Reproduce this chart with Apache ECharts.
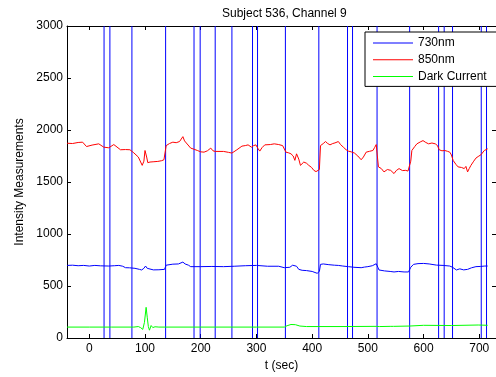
<!DOCTYPE html>
<html>
<head>
<meta charset="utf-8">
<script src="https://cdn.jsdelivr.net/npm/echarts@6/dist/echarts.min.js"></script>
<style>
  html, body { margin: 0; padding: 0; background: #fff; }
  #chart { width: 496px; height: 377px; }
</style>
</head>
<body>
<div id="chart"></div>
<script>
// values, [t (sec), intensity]
const nm730 = [
  [-40, 698], [-30, 700], [-20, 695], [-10, 698], [0, 692], [10, 698], [20, 694], [35, 692], [45, 695], [53, 698],
  [60, 690], [65, 676], [72, 675], [82, 670], [90, 660], [94, 654], [98, 670], [101, 692], [104, 670], [106, 654],
  [115, 655], [125, 656], [135, 660], [138, 700], [141, 708], [150, 710], [160, 712], [168, 730], [172, 712], [178, 700],
  [182, 686], [200, 686], [220, 688], [241, 686], [260, 690], [280, 695], [300, 698], [320, 690], [340, 690], [350, 676],
  [360, 680], [365, 700], [368, 692], [372, 690], [376, 660], [382, 651], [390, 648], [400, 640], [409, 622], [413, 640],
  [415, 708], [420, 712], [430, 705], [440, 700], [447, 698], [455, 692], [465, 686], [475, 680], [488, 676], [494, 682],
  [500, 686], [508, 695], [515, 714], [518, 680], [520, 654], [530, 645], [540, 640], [547, 635], [555, 640], [565, 635],
  [573, 635], [577, 680], [582, 708], [590, 715], [600, 717], [610, 712], [623, 701], [635, 698], [647, 692], [652, 680],
  [659, 654], [665, 665], [672, 655], [679, 660], [686, 675], [694, 686], [702, 688], [710, 692], [715, 692]
]

const nm850 = [
  [-40, 1873], [-30, 1870], [-20, 1880], [-12, 1883], [-5, 1841], [5, 1855], [17, 1867], [26, 1835], [35, 1829], [44, 1860],
  [56, 1810], [65, 1812], [73, 1810], [80, 1780], [88, 1740], [95, 1660], [98, 1700], [100, 1803], [103, 1740], [105, 1686],
  [109, 1692], [116, 1695], [123, 1698], [130, 1705], [134, 1714], [136, 1712], [138, 1850], [144, 1870], [150, 1883], [156, 1878],
  [162, 1889], [165, 1900], [168, 1936], [171, 1895], [174, 1883], [182, 1826], [188, 1815], [194, 1803], [200, 1790], [206, 1787],
  [212, 1800], [218, 1826], [222, 1800], [226, 1794], [241, 1794], [250, 1785], [256, 1778], [265, 1810], [274, 1845], [280, 1850],
  [285, 1857], [291, 1835], [295, 1850], [299, 1857], [303, 1820], [306, 1797], [310, 1830], [315, 1857], [325, 1860], [332, 1867],
  [340, 1860], [347, 1850], [350, 1840], [353, 1787], [358, 1780], [362, 1771], [366, 1750], [369, 1708], [372, 1771], [376, 1720],
  [379, 1660], [385, 1692], [390, 1680], [394, 1660], [399, 1640], [403, 1612], [407, 1600], [410, 1587], [413, 1620], [415, 1850],
  [420, 1870], [424, 1889], [428, 1870], [432, 1857], [437, 1870], [441, 1876], [447, 1889], [451, 1860], [456, 1835], [461, 1810],
  [465, 1797], [470, 1790], [476, 1778], [482, 1750], [488, 1714], [492, 1740], [497, 1787], [503, 1795], [509, 1803], [512, 1830],
  [515, 1860], [517, 1750], [519, 1645], [524, 1630], [529, 1597], [535, 1620], [541, 1612], [544, 1595], [547, 1581], [551, 1610],
  [556, 1629], [562, 1610], [568, 1612], [572, 1605], [575, 1603], [577, 1700], [579, 1803], [584, 1840], [588, 1867], [594, 1885],
  [599, 1898], [604, 1880], [609, 1867], [615, 1875], [621, 1867], [625, 1850], [628, 1810], [633, 1800], [638, 1803], [643, 1795],
  [647, 1787], [650, 1760], [653, 1708], [658, 1670], [662, 1645], [668, 1640], [673, 1629], [676, 1650], [679, 1597], [682, 1630],
  [685, 1660], [690, 1700], [694, 1730], [698, 1745], [703, 1762], [706, 1770], [709, 1803], [712, 1810], [715, 1819]
]

const darkCurrent = [
  [-40, 105], [0, 105], [40, 105], [80, 105], [88, 110], [92, 100], [96, 83], [99, 150], [102, 295], [104, 200],
  [106, 110], [108, 75], [111, 120], [114, 100], [118, 108], [125, 105], [200, 105], [300, 105], [350, 105], [355, 118],
  [362, 130], [370, 128], [378, 115], [390, 110], [450, 110], [515, 112], [518, 120], [521, 110], [540, 112], [543, 120],
  [546, 112], [575, 115], [578, 122], [600, 122], [650, 120], [698, 125], [701, 120], [715, 122]
]

// stimulus markers (sec)
const events = [26.5, 37, 76.5, 137, 188, 199, 226, 256, 293, 302, 352, 412, 463.5, 472.5, 516.5, 575, 627, 637, 652, 703.5, 713]

const xTicks = [0, 100, 200, 300, 400, 500, 600, 700]
const seriesNames = ['730nm', '850nm', 'Dark Current']

const font = "'Liberation Sans', Arial, sans-serif"
const fs = 12
const lineIcon = 'path://M0,0 L40,0 L40,1 L0,1 Z'
const chart = echarts.init(document.getElementById('chart'))

const lineSeries = (name, data, color) => ({
  name,
  type: 'line',
  data,
  symbol: 'none',
  lineStyle: { color, width: 1 },
  itemStyle: { color },
  z: 3
})

const option = {
  animation: false,
  textStyle: { fontFamily: font },
  title: {
    text: 'Subject 536, Channel 9',
    left: 217,
    top: 3,
    textStyle: { fontSize: fs, fontWeight: 'normal', color: '#000', fontFamily: font }
  },
  grid: { left: 67, top: 26, width: 436, height: 315, containLabel: false },
  legend: {
    data: seriesNames.map(name => ({ name, icon: lineIcon })),
    orient: 'vertical',
    left: 365,
    top: 32,
    z: 10,
    itemWidth: 40,
    itemHeight: 12,
    itemGap: 4.7,
    padding: [5, 12, 4, 8],
    backgroundColor: '#fff',
    borderColor: '#000',
    borderWidth: 1,
    textStyle: { fontSize: fs, color: '#000', fontFamily: font }
  },
  xAxis: [
    {
      type: 'value',
      min: -40,
      max: 730,
      name: 't (sec)',
      nameLocation: 'middle',
      nameGap: 22,
      nameTextStyle: { fontSize: fs, color: '#000' },
      axisLine: { onZero: false, lineStyle: { color: '#000', width: 1 } },
      axisTick: { inside: true, length: 4, customValues: xTicks, lineStyle: { color: '#000' } },
      axisLabel: { customValues: xTicks, fontSize: fs, color: '#000', margin: 5 },
      splitLine: { show: false }
    },
    {
      type: 'value',
      position: 'top',
      min: -40,
      max: 730,
      axisLine: { show: true, onZero: false, lineStyle: { color: '#000', width: 1 } },
      axisTick: { inside: true, length: 4, customValues: xTicks, lineStyle: { color: '#000' } },
      axisLabel: { show: false },
      splitLine: { show: false }
    }
  ],
  yAxis: [
    {
      type: 'value',
      min: 0,
      max: 3000,
      interval: 500,
      name: 'Intensity Measurements',
      nameLocation: 'middle',
      nameGap: 38,
      nameTextStyle: { fontSize: fs, color: '#000' },
      axisLine: { show: true, onZero: false, lineStyle: { color: '#000', width: 1 } },
      axisTick: { show: true, inside: true, length: 4, lineStyle: { color: '#000' } },
      axisLabel: { fontSize: fs, color: '#000', margin: 4, formatter: v => String(v) },
      splitLine: { show: false }
    },
    {
      type: 'value',
      position: 'right',
      min: 0,
      max: 3000,
      interval: 500,
      axisLine: { show: true, onZero: false, lineStyle: { color: '#000', width: 1 } },
      axisTick: { show: true, inside: true, length: 4, lineStyle: { color: '#000' } },
      axisLabel: { show: false },
      splitLine: { show: false }
    }
  ],
  series: [
    lineSeries(seriesNames[0], nm730, '#0000ff'),
    lineSeries(seriesNames[1], nm850, '#ff0000'),
    lineSeries(seriesNames[2], darkCurrent, '#00ff00'),
    {
      name: 'events',
      type: 'custom',
      silent: true,
      z: 2,
      data: events.map(t => [t]),
      renderItem: (params, api) => {
        const top = api.coord([api.value(0), 3000])
        const bottom = api.coord([api.value(0), 0])
        return {
          type: 'line',
          shape: { x1: top[0], y1: top[1], x2: bottom[0], y2: bottom[1] },
          style: { stroke: '#0000ff', lineWidth: 1 }
        }
      }
    }
  ]
}

chart.setOption(option)
</script>
</body>
</html>
